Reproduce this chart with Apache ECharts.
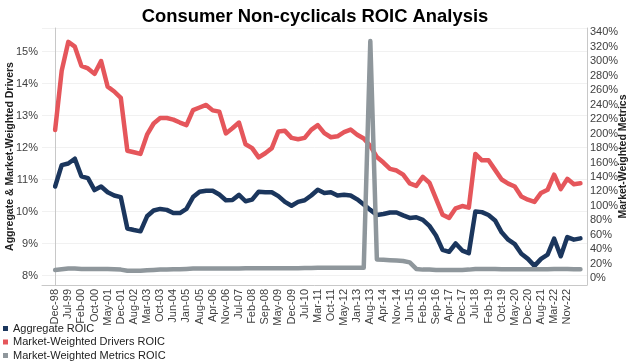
<!DOCTYPE html>
<html>
<head>
<meta charset="utf-8">
<script src="https://cdn.jsdelivr.net/npm/echarts/dist/echarts.min.js"></script>
<style>
html,body{margin:0;padding:0;background:#fff;}
#chart{width:630px;height:363px;}
</style>
</head>
<body>
<div id="chart"></div>
<script>
// Tick labels shown on the horizontal axis (every 2nd data point)
const tickLabels = ["Dec-98","Jul-99","Feb-00","Oct-00","May-01","Dec-01","Aug-02","Mar-03","Oct-03","Jun-04",
  "Jan-05","Aug-05","Apr-06","Nov-06","Jul-07","Feb-08","Sep-08","May-09","Dec-09","Jul-10",
  "Mar-11","Oct-11","May-12","Jan-13","Aug-13","Apr-14","Nov-14","Jun-15","Feb-16","Sep-16",
  "Apr-17","Dec-17","Jul-18","Feb-19","Oct-19","May-20","Dec-20","Aug-21","Mar-22","Nov-22"];

// Aggregate ROIC (%), left axis
const aggregateROIC = [10.78, 11.45, 11.5, 11.65, 11.1, 11.04, 10.67, 10.78, 10.6, 10.5,
  10.45, 9.47, 9.42, 9.38, 9.85, 10.03, 10.08, 10.05, 9.95, 9.95,
  10.08, 10.45, 10.62, 10.65, 10.65, 10.53, 10.35, 10.36, 10.52, 10.32,
  10.37, 10.62, 10.6, 10.6, 10.48, 10.3, 10.18, 10.3, 10.35, 10.5,
  10.68, 10.58, 10.6, 10.5, 10.52, 10.5, 10.38, 10.22, 10.05, 9.89,
  9.92, 9.97, 9.97, 9.88, 9.8, 9.82, 9.74, 9.55, 9.25, 8.8,
  8.74, 9.0, 8.78, 8.7, 10.0, 9.98, 9.89, 9.72, 9.35, 9.12,
  8.98, 8.68, 8.52, 8.3, 8.52, 8.65, 9.15, 8.6, 9.2, 9.12,
  9.16];

// Market-Weighted Drivers ROIC (%), left axis
const driversROIC = [12.55, 14.4, 15.3, 15.15, 14.55, 14.47, 14.3, 14.7, 13.9, 13.75,
  13.55, 11.9, 11.85, 11.8, 12.4, 12.75, 12.92, 12.92, 12.87, 12.78,
  12.7, 13.17, 13.25, 13.33, 13.16, 13.12, 12.44, 12.6, 12.78, 12.1,
  11.98, 11.69, 11.82, 11.98, 12.5, 12.52, 12.3, 12.26, 12.3, 12.55,
  12.7, 12.45, 12.32, 12.35, 12.48, 12.56, 12.4, 12.28, 12.05, 11.7,
  11.53, 11.33, 11.28, 11.15, 10.88, 10.8, 11.08, 10.9, 10.4, 9.9,
  9.8, 10.1, 10.17, 10.12, 11.8, 11.6, 11.6, 11.3, 11.0, 10.87,
  10.78, 10.47, 10.37, 10.3, 10.58, 10.68, 11.15, 10.7, 11.02, 10.85,
  10.88];

// Market-Weighted Metrics ROIC (%), right axis
const metricsROIC = [11.5, 12.5, 13.5, 13.5, 13, 13, 13, 13, 12.8, 12.5,
  12, 10.5, 10.5, 10.5, 11, 11.5, 12, 12, 12.5, 12.5,
  13, 13.5, 13.5, 13.5, 13.5, 13.5, 13.5, 13.5, 13.5, 13.8,
  13.8, 14, 14, 14, 14, 14, 14, 14, 14.2, 14.2,
  14.5, 14.5, 14.5, 14.5, 14.5, 14.5, 14.5, 14.5, 328, 26,
  25.5, 25, 24.5, 24, 22, 13, 12, 12, 11.5, 11.5,
  11.5, 11.5, 11.5, 12, 13, 13, 13, 13, 12.5, 12.5,
  12.5, 12.5, 12.5, 12.5, 12.5, 12.5, 13, 13, 13, 12.5,
  12.5];

const seriesNames = ["Aggregate ROIC", "Market-Weighted Drivers ROIC", "Market-Weighted Metrics ROIC"];
const seriesColors = ["#1b365d", "#e5565b", "#8f979c"];

const FONT = "'Liberation Sans', Arial, sans-serif";
const toPairs = arr => arr.map((v, i) => [i, v]);

const chart = echarts.init(document.getElementById('chart'), null, {renderer: 'canvas'});
chart.setOption({
  animation: false,
  backgroundColor: '#ffffff',
  textStyle: {fontFamily: FONT},
  title: {
    text: 'Consumer Non-cyclicals ROIC Analysis',
    left: 'center', top: 3,
    textStyle: {fontFamily: FONT, fontSize: 18.4, fontWeight: 'bold', color: '#000'}
  },
  legend: {
    orient: 'vertical', left: 3, top: 323, padding: 0,
    icon: 'rect', itemWidth: 5, itemHeight: 5, itemGap: 2.5,
    textStyle: {fontFamily: FONT, fontSize: 11, color: '#222'},
    data: seriesNames
  },
  grid: {left: 42, right: 43, top: 28, bottom: 78, containLabel: false, outerBoundsMode: 'none'},
  xAxis: {
    type: 'value', min: -2, max: 81, interval: 2,
    axisLine: {show: true, onZero: false, lineStyle: {color: '#c8c8c8', width: 1}},
    axisTick: {show: false},
    splitLine: {show: false},
    axisLabel: {
      rotate: 90, margin: 4, fontSize: 11, color: '#404040', fontFamily: FONT,
      showMinLabel: true, showMaxLabel: true,
      formatter: v => {
        const k = v / 2;
        return (Number.isInteger(k) && k >= 0 && k < tickLabels.length) ? tickLabels[k] : '';
      }
    }
  },
  yAxis: [
    {
      type: 'value', position: 'left', min: 7.703, max: 15.734, splitNumber: 8,
      name: 'Aggregate & Market-Weighted Drivers', nameLocation: 'middle', nameGap: 26, nameRotate: 90,
      nameMoveOverlap: false,
      nameTextStyle: {fontFamily: FONT, fontSize: 10.5, fontWeight: 'bold', color: '#222'},
      axisLine: {show: true, lineStyle: {color: '#c8c8c8'}},
      axisTick: {show: false},
      splitLine: {show: true, lineStyle: {color: '#f1f1f1', width: 1}},
      axisLabel: {
        margin: 4, fontSize: 11, color: '#404040', fontFamily: FONT,
        showMinLabel: false, showMaxLabel: false,
        formatter: v => (Math.abs(v - Math.round(v)) < 1e-6 ? Math.round(v) + '%' : '')
      }
    },
    {
      type: 'value', position: 'right', min: -9.26, max: 345.9, splitNumber: 17,
      name: 'Market-Weighted Metrics', nameLocation: 'middle', nameGap: 31, nameRotate: 90,
      nameMoveOverlap: false,
      nameTextStyle: {fontFamily: FONT, fontSize: 10.5, fontWeight: 'bold', color: '#222'},
      axisLine: {show: true, lineStyle: {color: '#c8c8c8'}},
      axisTick: {show: false},
      splitLine: {show: false},
      axisLabel: {
        margin: 3, fontSize: 11, color: '#404040', fontFamily: FONT,
        showMinLabel: false, showMaxLabel: false,
        formatter: v => (Math.abs(v / 20 - Math.round(v / 20)) < 1e-6 ? Math.round(v) + '%' : '')
      }
    }
  ],
  series: [
    {name: seriesNames[0], type: 'line', yAxisIndex: 0, data: toPairs(aggregateROIC), showSymbol: false, symbol: 'none',
     color: seriesColors[0], lineStyle: {width: 4.5, color: seriesColors[0], join: 'round', cap: 'round'}},
    {name: seriesNames[1], type: 'line', yAxisIndex: 0, data: toPairs(driversROIC), showSymbol: false, symbol: 'none',
     color: seriesColors[1], lineStyle: {width: 4.5, color: seriesColors[1], join: 'round', cap: 'round'}},
    {name: seriesNames[2], type: 'line', yAxisIndex: 1, data: toPairs(metricsROIC), showSymbol: false, symbol: 'none',
     color: seriesColors[2], lineStyle: {width: 4.5, color: seriesColors[2], join: 'round', cap: 'round'}}
  ]
});
</script>
</body>
</html>
